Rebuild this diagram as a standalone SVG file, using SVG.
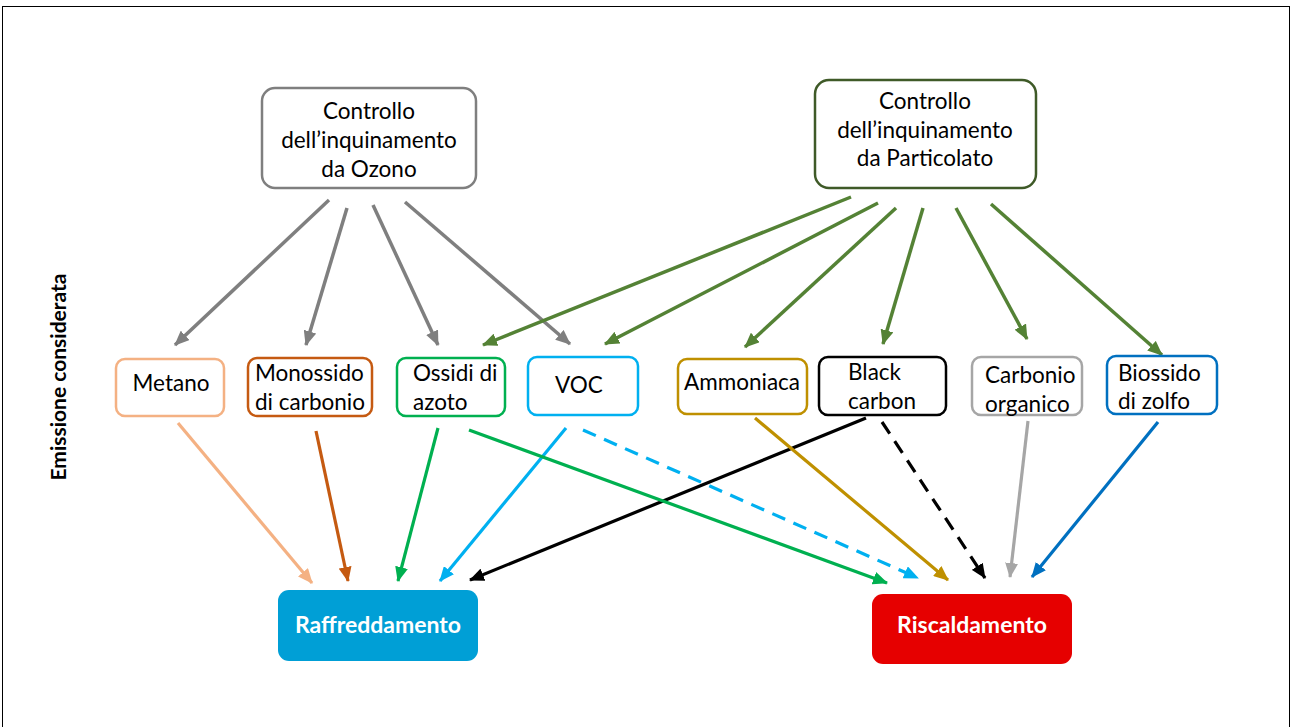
<svg xmlns="http://www.w3.org/2000/svg" width="1292" height="727" viewBox="0 0 1292 727">
<style>
.t{font-family:Lato,"Open Sans",sans-serif;font-size:22.5px;fill:#000}
.c{text-anchor:middle}
.b{font-family:Lato,"Open Sans",sans-serif;font-size:23px;font-weight:bold;fill:#fff;text-anchor:middle}
.box{fill:#fff;stroke-width:2.5}
.ln{fill:none;stroke-width:3.5}
</style>
<defs>
<marker id="mGray" markerUnits="userSpaceOnUse" markerWidth="15" markerHeight="13" refX="14" refY="6.5" orient="auto"><path d="M0,0 L15,6.5 L0,13 Z" fill="#7f7f7f"/></marker>
<marker id="mGreen" markerUnits="userSpaceOnUse" markerWidth="15" markerHeight="13" refX="14" refY="6.5" orient="auto"><path d="M0,0 L15,6.5 L0,13 Z" fill="#548235"/></marker>
<marker id="mPeach" markerUnits="userSpaceOnUse" markerWidth="15" markerHeight="13" refX="14" refY="6.5" orient="auto"><path d="M0,0 L15,6.5 L0,13 Z" fill="#f4b183"/></marker>
<marker id="mBrown" markerUnits="userSpaceOnUse" markerWidth="15" markerHeight="13" refX="14" refY="6.5" orient="auto"><path d="M0,0 L15,6.5 L0,13 Z" fill="#c55a11"/></marker>
<marker id="mOss" markerUnits="userSpaceOnUse" markerWidth="15" markerHeight="13" refX="14" refY="6.5" orient="auto"><path d="M0,0 L15,6.5 L0,13 Z" fill="#00b050"/></marker>
<marker id="mVoc" markerUnits="userSpaceOnUse" markerWidth="15" markerHeight="13" refX="14" refY="6.5" orient="auto"><path d="M0,0 L15,6.5 L0,13 Z" fill="#00b0f0"/></marker>
<marker id="mBlack" markerUnits="userSpaceOnUse" markerWidth="15" markerHeight="13" refX="14" refY="6.5" orient="auto"><path d="M0,0 L15,6.5 L0,13 Z" fill="#000"/></marker>
<marker id="mGold" markerUnits="userSpaceOnUse" markerWidth="15" markerHeight="13" refX="14" refY="6.5" orient="auto"><path d="M0,0 L15,6.5 L0,13 Z" fill="#bf9000"/></marker>
<marker id="mLgray" markerUnits="userSpaceOnUse" markerWidth="15" markerHeight="13" refX="14" refY="6.5" orient="auto"><path d="M0,0 L15,6.5 L0,13 Z" fill="#a6a6a6"/></marker>
<marker id="mBlue" markerUnits="userSpaceOnUse" markerWidth="15" markerHeight="13" refX="14" refY="6.5" orient="auto"><path d="M0,0 L15,6.5 L0,13 Z" fill="#0070c0"/></marker>
</defs>
<rect x="0" y="0" width="1292" height="727" fill="#fff"/>
<rect x="2.5" y="6.5" width="1287" height="730" fill="none" stroke="#000" stroke-width="1"/>

<g id="connectors">
<g stroke="#7f7f7f" class="ln" style="fill:none">
<line x1="329" y1="200" x2="175" y2="345" marker-end="url(#mGray)"/>
<line x1="347" y1="208" x2="306" y2="345" marker-end="url(#mGray)"/>
<line x1="373" y1="205" x2="438" y2="345" marker-end="url(#mGray)"/>
<line x1="405" y1="202" x2="570" y2="344" marker-end="url(#mGray)"/>
</g>
<g stroke="#548235" class="ln" style="fill:none">
<line x1="851" y1="197" x2="483" y2="345" marker-end="url(#mGreen)"/>
<line x1="878" y1="203" x2="605" y2="344" marker-end="url(#mGreen)"/>
<line x1="896" y1="208" x2="745" y2="347" marker-end="url(#mGreen)"/>
<line x1="923" y1="208" x2="883" y2="344" marker-end="url(#mGreen)"/>
<line x1="956" y1="208" x2="1027" y2="339" marker-end="url(#mGreen)"/>
<line x1="991" y1="204" x2="1162" y2="355" marker-end="url(#mGreen)"/>
</g>
<g class="ln" style="fill:none;stroke-width:3.2">
<line x1="178" y1="423" x2="312" y2="583" stroke="#f4b183" marker-end="url(#mPeach)"/>
<line x1="316" y1="431" x2="348" y2="581" stroke="#c55a11" marker-end="url(#mBrown)"/>
<line x1="438" y1="428" x2="398" y2="581" stroke="#00b050" marker-end="url(#mOss)"/>
<line x1="566" y1="428" x2="440" y2="581" stroke="#00b0f0" marker-end="url(#mVoc)"/>
<line x1="866" y1="418" x2="470" y2="580" stroke="#000" marker-end="url(#mBlack)"/>
<line x1="469" y1="430" x2="887" y2="583" stroke="#00b050" marker-end="url(#mOss)"/>
<line x1="583" y1="430" x2="918" y2="578" stroke="#00b0f0" stroke-dasharray="14,9" marker-end="url(#mVoc)"/>
<line x1="755" y1="418" x2="948" y2="580" stroke="#bf9000" marker-end="url(#mGold)"/>
<line x1="882" y1="422" x2="985" y2="578" stroke="#000" stroke-dasharray="14,9" marker-end="url(#mBlack)"/>
<line x1="1028" y1="421" x2="1010" y2="577" stroke="#a6a6a6" marker-end="url(#mLgray)"/>
<line x1="1158" y1="422" x2="1032" y2="577" stroke="#0070c0" marker-end="url(#mBlue)"/>
</g>
</g>

<g id="ozono">
<rect x="262" y="88" width="214" height="100" rx="13" class="box" stroke="#7f7f7f"/>
<text class="t c" x="369" y="119">Controllo</text>
<text class="t c" x="369" y="148">dell’inquinamento</text>
<text class="t c" x="369" y="177">da Ozono</text>
</g>
<g id="particolato">
<rect x="815" y="80" width="221" height="108" rx="14" class="box" stroke="#3f5a28"/>
<text class="t c" x="925" y="109">Controllo</text>
<text class="t c" x="925" y="138">dell’inquinamento</text>
<text class="t c" x="925" y="166">da Particolato</text>
</g>

<g id="metano">
<rect x="116" y="359" width="108" height="57" rx="9" class="box" stroke="#f4b183"/>
<text class="t c" x="171" y="391">Metano</text>
</g>
<g id="monossido">
<rect x="248" y="358" width="124" height="58" rx="9" class="box" stroke="#c55a11"/>
<text class="t" x="255" y="381">Monossido</text>
<text class="t" x="255" y="410">di carbonio</text>
</g>
<g id="ossidi">
<rect x="397" y="358" width="108" height="58" rx="9" class="box" stroke="#00b050"/>
<text class="t" x="413" y="381">Ossidi di</text>
<text class="t" x="413" y="410">azoto</text>
</g>
<g id="voc">
<rect x="528" y="357" width="110" height="58" rx="9" class="box" stroke="#00b0f0"/>
<text class="t" x="555" y="393">VOC</text>
</g>
<g id="ammoniaca">
<rect x="678" y="359" width="129" height="55" rx="9" class="box" stroke="#bf9000"/>
<text class="t" x="684" y="390">Ammoniaca</text>
</g>
<g id="blackcarbon">
<rect x="819" y="357" width="127" height="58" rx="9" class="box" stroke="#000"/>
<text class="t" x="848" y="380">Black</text>
<text class="t" x="848" y="409">carbon</text>
</g>
<g id="carbonio">
<rect x="972" y="357" width="110" height="58" rx="9" class="box" stroke="#a6a6a6"/>
<text class="t" x="985" y="383">Carbonio</text>
<text class="t" x="985" y="412">organico</text>
</g>
<g id="biossido">
<rect x="1107" y="356" width="110" height="58" rx="9" class="box" stroke="#0070c0"/>
<text class="t" x="1118" y="381">Biossido</text>
<text class="t" x="1118" y="409">di zolfo</text>
</g>

<g id="raffreddamento">
<rect x="278" y="590" width="200" height="71" rx="11" fill="#009fd6"/>
<text class="b" x="378" y="633">Raffreddamento</text>
</g>
<g id="riscaldamento">
<rect x="872" y="594" width="200" height="70" rx="11" fill="#e60000"/>
<text class="b" x="972" y="633">Riscaldamento</text>
</g>

<g id="label">
<text transform="translate(66,377) rotate(-90)" style="font-family:Lato,'Open Sans',sans-serif;font-size:21px;font-weight:bold;text-anchor:middle;fill:#000">Emissione considerata</text>
</g>
</svg>
